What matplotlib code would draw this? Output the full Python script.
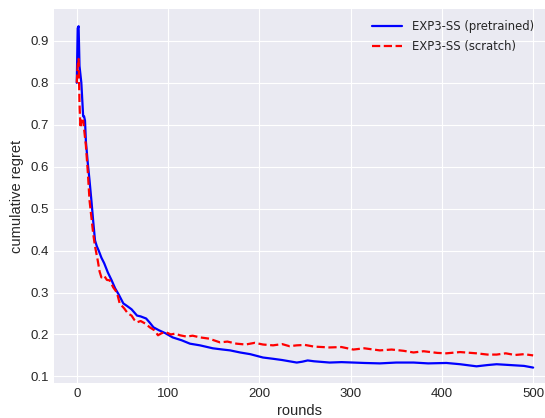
import matplotlib
matplotlib.use('Agg')
import matplotlib.pyplot as plt

# values
rounds_pre = [0, 1, 2, 3, 4, 5, 6, 7, 8, 9, 10, 12, 14, 16, 18, 20, 22, 24, 27, 30,
              34, 38, 42, 46, 51, 55, 60, 66, 70, 76, 80, 84, 90, 97, 105, 115, 124,
              135, 149, 160, 168, 179, 190, 204, 215, 225, 241, 247, 253, 260, 277,
              290, 303, 315, 332, 350, 369, 385, 405, 420, 438, 450, 460, 475, 490, 500]
regret_pre = [0.80, 0.93, 0.935, 0.84, 0.82, 0.80, 0.76, 0.72, 0.72, 0.71, 0.66, 0.61,
              0.567, 0.52, 0.47, 0.424, 0.41, 0.40, 0.383, 0.37, 0.348, 0.33, 0.31,
              0.295, 0.274, 0.268, 0.26, 0.245, 0.243, 0.238, 0.228, 0.217, 0.21, 0.203,
              0.193, 0.186, 0.178, 0.174, 0.167, 0.164, 0.162, 0.157, 0.153, 0.145,
              0.142, 0.139, 0.133, 0.135, 0.138, 0.136, 0.133, 0.134, 0.133, 0.132,
              0.131, 0.133, 0.133, 0.131, 0.132, 0.129, 0.124, 0.127, 0.129, 0.127,
              0.125, 0.121]

rounds_scr = [0, 1, 2, 3, 4, 5, 6, 7, 8, 10, 12, 14, 16, 18, 20, 23, 25, 27, 30, 33,
              36, 40, 44, 47, 52, 56, 60, 63, 66, 70, 75, 80, 85, 89, 93, 98, 103, 108,
              113, 120, 127, 135, 145, 157, 165, 175, 185, 195, 204, 215, 225, 233, 241,
              250, 260, 277, 290, 303, 315, 332, 345, 358, 369, 380, 395, 405, 420, 438,
              450, 460, 470, 480, 490, 500]
regret_scr = [0.80, 0.84, 0.857, 0.75, 0.693, 0.71, 0.70, 0.71, 0.69, 0.65, 0.59, 0.519,
              0.48, 0.44, 0.41, 0.376, 0.35, 0.336, 0.34, 0.33, 0.329, 0.312, 0.30,
              0.274, 0.262, 0.25, 0.245, 0.235, 0.229, 0.232, 0.226, 0.217, 0.21, 0.198,
              0.203, 0.205, 0.2, 0.202, 0.198, 0.195, 0.197, 0.193, 0.19, 0.181, 0.183,
              0.178, 0.176, 0.18, 0.176, 0.174, 0.177, 0.172, 0.174, 0.175, 0.171,
              0.169, 0.170, 0.164, 0.167, 0.162, 0.164, 0.161, 0.157, 0.16, 0.156,
              0.155, 0.158, 0.155, 0.152, 0.152, 0.155, 0.151, 0.153, 0.150]

plt.style.use('seaborn-v0_8-darkgrid')
plt.rcParams['font.family'] = ['Liberation Sans', 'DejaVu Sans']

fig = plt.figure(figsize=(5.45, 4.18), dpi=100)
ax = fig.add_axes([0.099, 0.084, 0.901, 0.894])
ax.plot(rounds_pre, regret_pre, 'b-', lw=1.6, label='EXP3-SS (pretrained)')
ax.plot(rounds_scr, regret_scr, 'r--', lw=1.6, label='EXP3-SS (scratch)')
ax.set_xlim(-25, 513)
ax.set_ylim(0.0845, 0.9755)
ax.set_xticks([0, 100, 200, 300, 400, 500])
ax.set_yticks([0.1, 0.2, 0.3, 0.4, 0.5, 0.6, 0.7, 0.8, 0.9])
ax.tick_params(labelsize=9.5)
ax.set_xlabel('rounds', fontsize=10.5, labelpad=3)
ax.set_ylabel('cumulative regret', fontsize=10.5, labelpad=5)
ax.legend(loc='upper right', prop={'family': 'DejaVu Sans', 'size': 8.4},
          handlelength=2.6, handletextpad=0.85, labelspacing=0.6)
fig.savefig('out.png', dpi=100)
